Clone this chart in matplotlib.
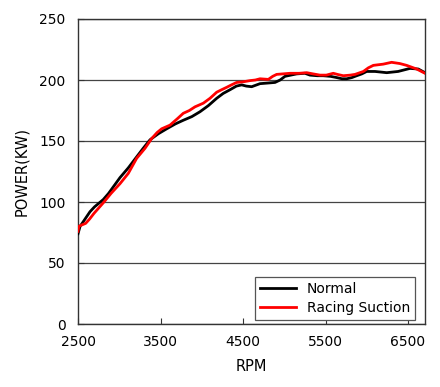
import matplotlib
matplotlib.use('Agg')
import matplotlib.pyplot as plt

# engine speed (rpm) and power (kW)
rpm_normal = [2500, 2525, 2575, 2645, 2700, 2806, 2870, 3009, 3110, 3211, 3290, 3373,
              3475, 3575, 3680, 3776, 3880, 3979, 4080, 4181, 4260, 4342, 4420, 4484,
              4540, 4605, 4706, 4800, 4888, 4950, 5009, 5150, 5250, 5312, 5400, 5473,
              5560, 5635, 5700, 5757, 5820, 5878, 5940, 5999, 6100, 6242, 6380, 6524,
              6625, 6706]
power_normal = [74, 80, 85, 92, 96, 102, 107, 120, 128, 137, 144, 151,
                156, 160, 164, 167, 170, 174, 179, 185, 189, 192, 195, 196,
                195, 194.5, 197, 197.5, 198, 200, 203, 205, 205.5, 204, 203.5, 203.5,
                203, 202, 201, 201, 202, 203.5, 205, 207, 207, 206, 207, 209.5,
                209, 206]

rpm_racing = [2500, 2510, 2540, 2593, 2640, 2694, 2750, 2815, 2900, 3009, 3110, 3211,
              3312, 3393, 3460, 3514, 3615, 3700, 3776, 3850, 3918, 4019, 4100, 4181,
              4240, 4302, 4360, 4423, 4500, 4585, 4650, 4706, 4807, 4860, 4908, 5070,
              5180, 5272, 5350, 5433, 5510, 5594, 5650, 5716, 5800, 5858, 5959, 6020,
              6080, 6200, 6301, 6400, 6483, 6605, 6706]
power_racing = [76, 80, 81, 82.5, 86, 90.7, 95, 100, 107, 115, 123.5, 135.8,
                144, 152, 157, 160, 163, 168, 172.7, 175, 178, 181, 185, 190,
                192, 194, 196, 198, 198.5, 199.5, 200, 201, 200.5, 203, 204.6, 205.5,
                205.5, 206, 205, 204, 204, 205.5, 204.5, 203.5, 204, 204.6, 207, 210,
                212, 213, 214.5, 213.5, 212, 209, 205.5]

x_ticks = [2500, 3500, 4500, 5500, 6500]
y_ticks = [0, 50, 100, 150, 200, 250]

plt.rcParams['font.family'] = ['DejaVu Sans']

fig = plt.figure(figsize=(4.4, 3.87), dpi=100)
ax = fig.add_axes([78 / 440, 1 - 324 / 387, 347 / 440, 305 / 387])

ax.plot(rpm_normal, power_normal, color='black', lw=2, label='Normal', zorder=3)
ax.plot(rpm_racing, power_racing, color='#ff0000', lw=2, label='Racing Suction', zorder=4)

ax.set_xlim(2500, 6706)
ax.set_ylim(0, 250)
ax.set_xticks(x_ticks)
ax.set_yticks(y_ticks)
ax.yaxis.grid(True, color='#444444', lw=0.9)
ax.set_axisbelow(True)
ax.tick_params(direction='in', length=4, width=0.8, labelsize=10, color='#333333')
ax.tick_params(axis='x', pad=8)
ax.tick_params(axis='y', pad=9)
for spine in ax.spines.values():
    spine.set_color('#333333')
    spine.set_linewidth(1.0)

ax.set_xlabel('RPM', fontsize=10.5, labelpad=7)
ax.set_ylabel('POWER(KW)', fontsize=10.5, labelpad=7)

leg = ax.legend(loc='lower right', bbox_to_anchor=(0.971, 0.013), fontsize=10,
                fancybox=False, framealpha=1, edgecolor='#555555',
                handlelength=2.6, borderpad=0.35, labelspacing=0.35, borderaxespad=0)
leg.get_frame().set_linewidth(0.9)

fig.savefig('out.png', dpi=100)
